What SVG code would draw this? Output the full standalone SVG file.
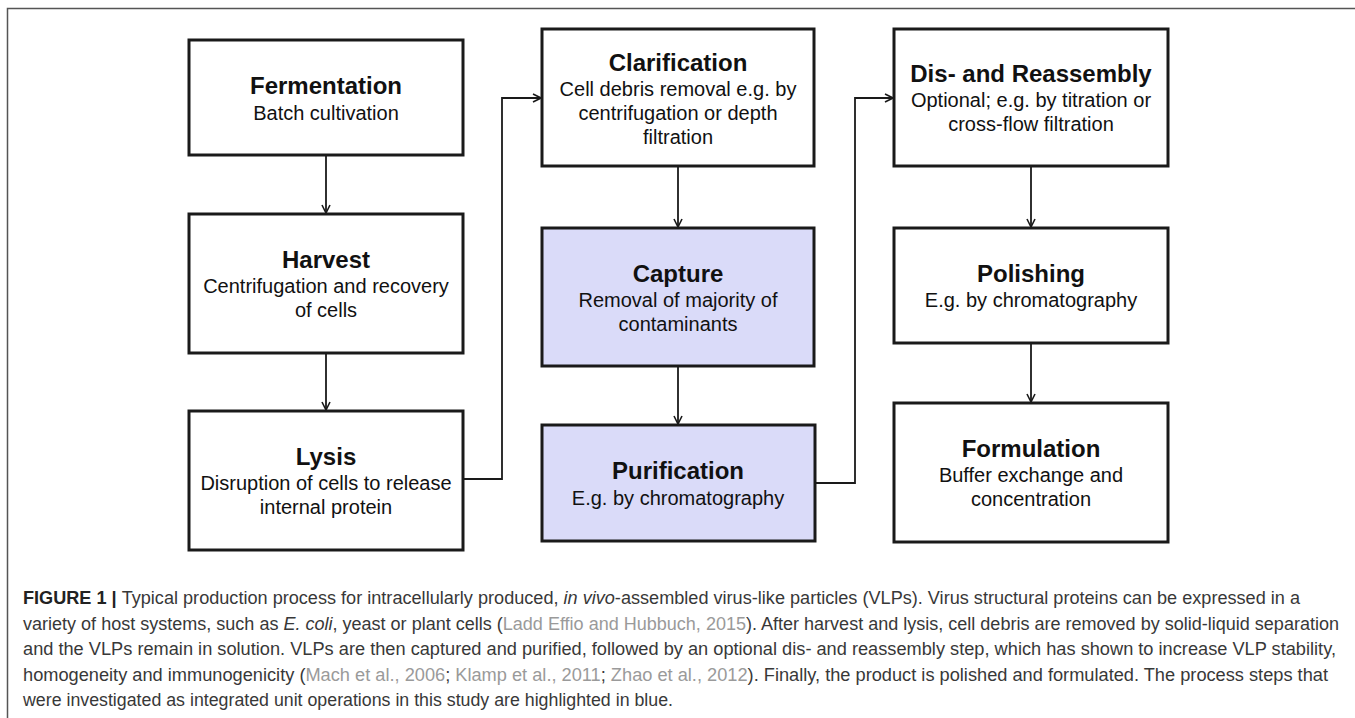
<svg xmlns="http://www.w3.org/2000/svg" width="1355" height="718" viewBox="0 0 1355 718">
<defs>
<style>
.box{fill:#ffffff;stroke:#1a1a1a;stroke-width:3}
.hl{fill:#dadbf9}
.t{font-family:"Liberation Sans",Arial,sans-serif;font-size:24px;font-weight:bold;fill:#111;text-anchor:middle}
.s{font-family:"Liberation Sans",Arial,sans-serif;font-size:20px;fill:#111;text-anchor:middle}
.cap{font-family:"Liberation Sans",Arial,sans-serif;font-size:17.5px;fill:#383838}
.b{font-weight:bold;fill:#222}
.i{font-style:italic}
.g{fill:#9a9a9a}
.conn{fill:none;stroke:#1a1a1a;stroke-width:1.8}
</style>
<marker id="arr" viewBox="0 0 10 10" refX="9" refY="5" markerWidth="10" markerHeight="10" markerUnits="userSpaceOnUse" orient="auto">
<path d="M1,1 L9,5 L1,9" fill="none" stroke="#1a1a1a" stroke-width="1.6"/>
</marker>
</defs>
<rect width="1355" height="718" fill="#ffffff"/>
<g id="frame">
<path d="M7.5,718 L7.5,8.5 L1355,8.5" fill="none" stroke="#555" stroke-width="1.5"/>
</g>
<g id="connectors">
<path class="conn" d="M326,155 L326,213" marker-end="url(#arr)"/>
<path class="conn" d="M326,353 L326,410" marker-end="url(#arr)"/>
<path class="conn" d="M463,479 L502,479 L502,98 L541,98" marker-end="url(#arr)"/>
<path class="conn" d="M678,166 L678,227" marker-end="url(#arr)"/>
<path class="conn" d="M678,366 L678,424" marker-end="url(#arr)"/>
<path class="conn" d="M815,483 L855,483 L855,98 L893,98" marker-end="url(#arr)"/>
<path class="conn" d="M1031,166 L1031,227" marker-end="url(#arr)"/>
<path class="conn" d="M1031,343 L1031,402" marker-end="url(#arr)"/>
</g>
<g id="fermentation">
<rect class="box" x="189" y="40" width="274" height="115"/>
<text class="t" x="326" y="94">Fermentation</text>
<text class="s" x="326" y="119.5">Batch cultivation</text>
</g>
<g id="harvest">
<rect class="box" x="189" y="214" width="274" height="139"/>
<text class="t" x="326" y="268">Harvest</text>
<text class="s" x="326" y="293">Centrifugation and recovery</text>
<text class="s" x="326" y="317">of cells</text>
</g>
<g id="lysis">
<rect class="box" x="189" y="411" width="274" height="139"/>
<text class="t" x="326" y="465">Lysis</text>
<text class="s" x="326" y="490">Disruption of cells to release</text>
<text class="s" x="326" y="514">internal protein</text>
</g>
<g id="clarification">
<rect class="box" x="542" y="29" width="272" height="137"/>
<text class="t" x="678" y="70.5">Clarification</text>
<text class="s" x="678" y="95.5">Cell debris removal e.g. by</text>
<text class="s" x="678" y="119.5">centrifugation or depth</text>
<text class="s" x="678" y="143.5">filtration</text>
</g>
<g id="capture">
<rect class="box hl" x="542" y="228" width="272" height="138"/>
<text class="t" x="678" y="281.5">Capture</text>
<text class="s" x="678" y="306.5">Removal of majority of</text>
<text class="s" x="678" y="330.5">contaminants</text>
</g>
<g id="purification">
<rect class="box hl" x="542" y="425" width="273" height="116"/>
<text class="t" x="678" y="479">Purification</text>
<text class="s" x="678" y="504.5">E.g. by chromatography</text>
</g>
<g id="disreassembly">
<rect class="box" x="894" y="29" width="274" height="137"/>
<text class="t" x="1031" y="81.5">Dis- and Reassembly</text>
<text class="s" x="1031" y="106.5">Optional; e.g. by titration or</text>
<text class="s" x="1031" y="130.5">cross-flow filtration</text>
</g>
<g id="polishing">
<rect class="box" x="894" y="228" width="274" height="115"/>
<text class="t" x="1031" y="282">Polishing</text>
<text class="s" x="1031" y="307">E.g. by chromatography</text>
</g>
<g id="formulation">
<rect class="box" x="894" y="403" width="274" height="139"/>
<text class="t" x="1031" y="457">Formulation</text>
<text class="s" x="1031" y="482">Buffer exchange and</text>
<text class="s" x="1031" y="506">concentration</text>
</g>
<g id="caption">
<text class="cap" x="23" y="604" textLength="1277" lengthAdjust="spacingAndGlyphs"><tspan class="b">FIGURE 1 | </tspan>Typical production process for intracellularly produced, <tspan class="i">in vivo</tspan>-assembled virus-like particles (VLPs). Virus structural proteins can be expressed in a</text>
<text class="cap" x="23" y="629.5" textLength="1316" lengthAdjust="spacingAndGlyphs">variety of host systems, such as <tspan class="i">E. coli</tspan>, yeast or plant cells (<tspan class="g">Ladd Effio and Hubbuch, 2015</tspan>). After harvest and lysis, cell debris are removed by solid-liquid separation</text>
<text class="cap" x="23" y="655" textLength="1313" lengthAdjust="spacingAndGlyphs">and the VLPs remain in solution. VLPs are then captured and purified, followed by an optional dis- and reassembly step, which has shown to increase VLP stability,</text>
<text class="cap" x="23" y="680.5" textLength="1305" lengthAdjust="spacingAndGlyphs">homogeneity and immunogenicity (<tspan class="g">Mach et al., 2006</tspan>; <tspan class="g">Klamp et al., 2011</tspan>; <tspan class="g">Zhao et al., 2012</tspan>). Finally, the product is polished and formulated. The process steps that</text>
<text class="cap" x="23" y="706" textLength="650" lengthAdjust="spacingAndGlyphs">were investigated as integrated unit operations in this study are highlighted in blue.</text>
</g>
</svg>
